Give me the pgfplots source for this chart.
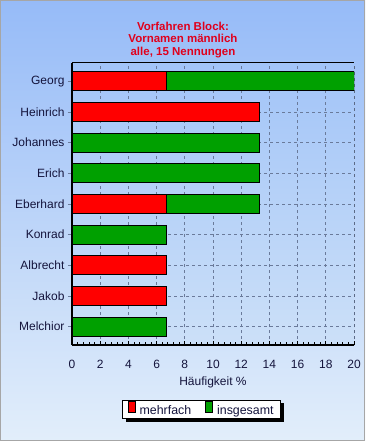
\documentclass[border=0pt]{standalone}
\usepackage{pgfplots}
\pgfplotsset{compat=1.18}
\usetikzlibrary{shadows}
\usepackage{fontspec}
\setmainfont{Liberation Sans}
\definecolor{bgtop}{HTML}{96BBF8}
\definecolor{bgbot}{HTML}{E2EEFA}
\definecolor{patop}{HTML}{A2C4F8}
\definecolor{pabot}{HTML}{CCE0F8}
\definecolor{txt}{HTML}{14143C}
\definecolor{ttl}{HTML}{E0001C}
\definecolor{bred}{HTML}{FF0000}
\definecolor{bgreen}{HTML}{00A000}
\definecolor{gridc}{HTML}{6A7A9A}
\begin{document}
\begin{tikzpicture}[x=1pt,y=1pt]
\shade[top color=bgtop,bottom color=bgbot] (-72,-96) rectangle (293,345);
\draw[gray!70, line width=1] (-71.5,-95.5) rectangle (292.5,344.5);
\node[align=center, text=ttl, font=\fontsize{11.5}{12.6}\selectfont\bfseries] at (111, 305) {Vorfahren Block:\\Vornamen männlich\\alle, 15 Nennungen};
\begin{axis}[
  width=282pt, height=282pt, scale only axis,
  xmin=0, xmax=20, ymin=-0.6, ymax=8.6,
  xtick={0,2,...,20}, minor x tick num=4,
  ytick={0,...,8},
  yticklabels={Melchior,Jakob,Albrecht,Konrad,Eberhard,Erich,Johannes,Heinrich,Georg},
  xmajorgrids, ymajorgrids,
  grid style={dashed, gridc, line width=0.8},
  axis x line*=bottom, axis y line*=left,
  axis line style={line width=2, black},
  x tick style={black, line width=0.8},
  y tick style={gridc, line width=0.8},
  xtick align=inside, ytick align=outside,
  major tick length=4pt, minor tick length=3pt,
  ticklabel style={font=\fontsize{12}{14}\selectfont, text=txt},
  xticklabel style={yshift=-12pt},
  /pgf/number format/assume math mode=true,
  xlabel={Häufigkeit \%},
  xlabel style={font=\fontsize{12}{14}\selectfont, text=txt, yshift=-1pt},
  axis background/.style={shade, top color=patop, bottom color=pabot},
  xbar, bar width=19pt, bar shift=0pt,
  legend columns=2, reverse legend,
  legend style={at={(0.46,-0.229)}, anchor=center, draw=black, fill=white,
    line width=0.8, drop shadow={shadow xshift=3pt, shadow yshift=-3pt, fill=black, opacity=1},
    font=\fontsize{12.4}{14}\selectfont, text=txt,
    /tikz/every odd column/.append style={column sep=2pt},
    /tikz/every even column/.append style={column sep=12pt},
    inner xsep=5pt, inner ysep=1pt},
]
\addplot[draw=black, fill=bgreen, line width=1,
  legend image code/.code={\node[draw=black, fill=bgreen, line width=0.8, minimum width=7pt, minimum height=11pt, inner sep=0pt, anchor=west] at (0pt,0.33em) {};}] coordinates {
(20,8) (13.333,6) (13.333,5) (13.333,4) (6.667,3) (6.667,0)};
\addlegendentry{insgesamt\hspace{9pt}}
\addplot[draw=black, fill=bred, line width=1,
  legend image code/.code={\node[draw=black, fill=bred, line width=0.8, minimum width=7pt, minimum height=11pt, inner sep=0pt, anchor=west] at (0pt,0.33em) {};}] coordinates {
(6.667,8) (13.333,7) (6.667,4) (6.667,2) (6.667,1)};
\addlegendentry{mehrfach}
\draw[black, line width=1] (axis cs:0,8.6) -- (axis cs:20,8.6);
\draw[black, line width=1, dashed] (axis cs:20,-0.6) -- (axis cs:20,8.6);
\end{axis}
\end{tikzpicture}
\end{document}
